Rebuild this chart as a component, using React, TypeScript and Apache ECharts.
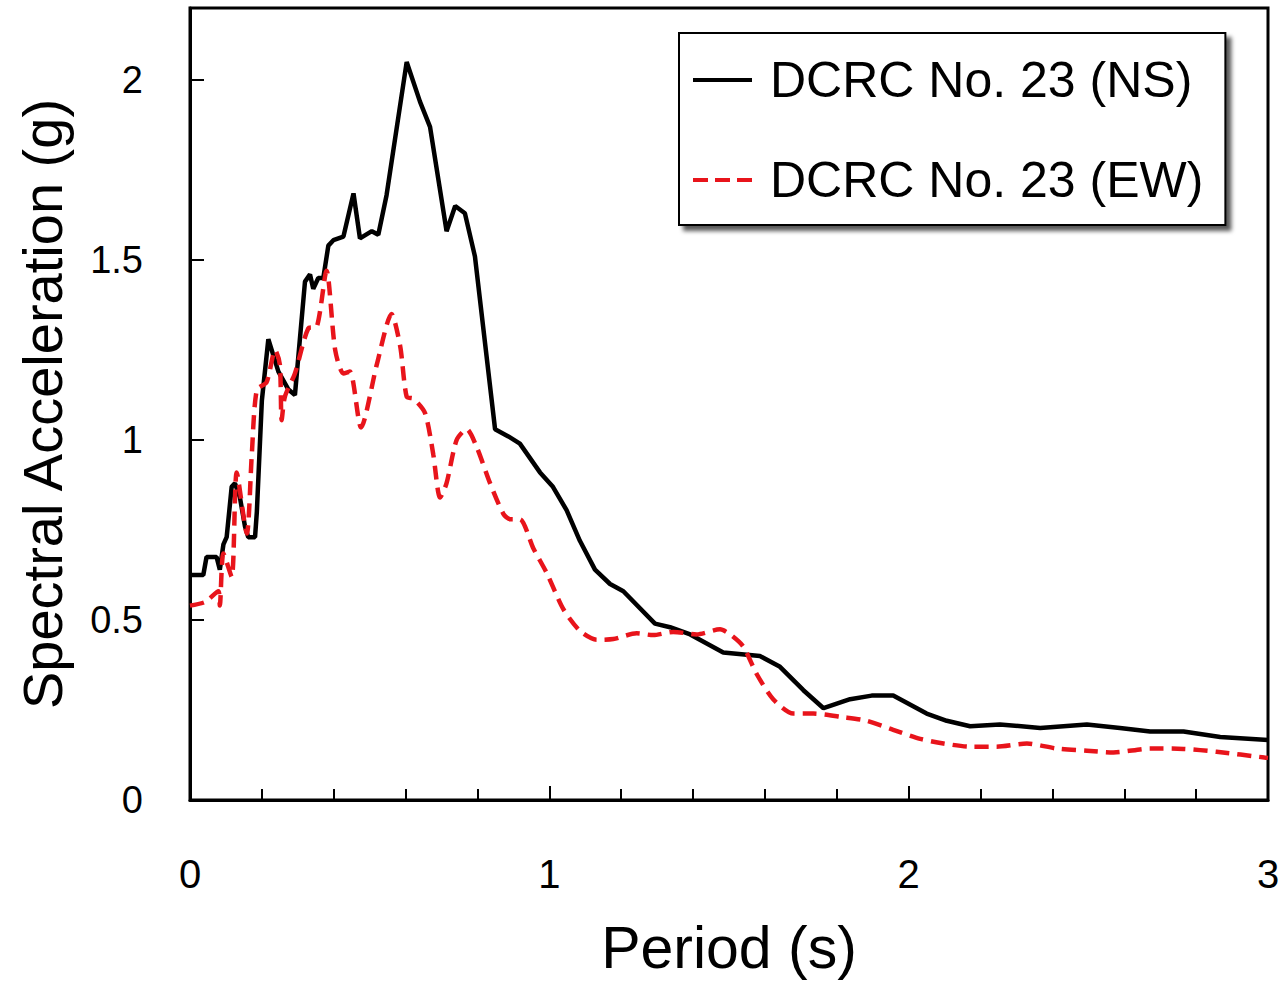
import React, { useEffect, useRef } from "react";
import * as echarts from "echarts";

const nsName = "DCRC No. 23 (NS)";
const ewName = "DCRC No. 23 (EW)";

const nsPeriod = [0.0, 0.037, 0.046, 0.074, 0.083, 0.093, 0.102, 0.116, 0.125, 0.139, 0.153, 0.162, 0.181, 0.186, 0.2, 0.218, 0.246, 0.274, 0.292, 0.32, 0.334, 0.343, 0.357, 0.371, 0.385, 0.399, 0.427, 0.455, 0.473, 0.506, 0.524, 0.547, 0.603, 0.64, 0.668, 0.714, 0.738, 0.765, 0.793, 0.849, 0.886, 0.918, 0.974, 1.01, 1.048, 1.085, 1.127, 1.169, 1.206, 1.294, 1.336, 1.392, 1.484, 1.586, 1.642, 1.707, 1.763, 1.837, 1.897, 1.957, 2.05, 2.106, 2.171, 2.254, 2.366, 2.496, 2.588, 2.672, 2.765, 2.867, 3.0];
const nsSa = [0.625, 0.625, 0.675, 0.675, 0.64, 0.71, 0.73, 0.87, 0.88, 0.84, 0.76, 0.73, 0.73, 0.8, 1.11, 1.28, 1.19, 1.14, 1.125, 1.44, 1.46, 1.42, 1.45, 1.45, 1.54, 1.555, 1.565, 1.685, 1.56, 1.58, 1.57, 1.68, 2.05, 1.94, 1.87, 1.58, 1.65, 1.63, 1.51, 1.03, 1.01, 0.99, 0.91, 0.87, 0.805, 0.72, 0.64, 0.6, 0.58, 0.49, 0.48, 0.46, 0.41, 0.4, 0.37, 0.305, 0.255, 0.28, 0.29, 0.29, 0.24, 0.22, 0.205, 0.21, 0.2, 0.21, 0.2, 0.19, 0.19, 0.175, 0.167];

const ewPeriod = [0.0, 0.042, 0.079, 0.083, 0.093, 0.116, 0.13, 0.158, 0.172, 0.186, 0.213, 0.237, 0.25, 0.255, 0.264, 0.292, 0.329, 0.353, 0.38, 0.404, 0.427, 0.445, 0.476, 0.52, 0.561, 0.585, 0.603, 0.622, 0.654, 0.677, 0.696, 0.714, 0.742, 0.77, 0.798, 0.835, 0.872, 0.891, 0.918, 0.955, 0.993, 1.039, 1.085, 1.132, 1.178, 1.243, 1.289, 1.345, 1.41, 1.475, 1.503, 1.54, 1.577, 1.623, 1.679, 1.735, 1.818, 1.883, 1.957, 2.032, 2.097, 2.171, 2.245, 2.329, 2.412, 2.496, 2.57, 2.672, 2.765, 2.857, 2.99, 3.0];
const ewSa = [0.54, 0.55, 0.58, 0.54, 0.685, 0.62, 0.91, 0.74, 0.96, 1.14, 1.16, 1.25, 1.21, 1.055, 1.12, 1.185, 1.31, 1.315, 1.47, 1.25, 1.185, 1.19, 1.035, 1.21, 1.35, 1.26, 1.12, 1.115, 1.075, 0.96, 0.84, 0.88, 1.0, 1.03, 0.98, 0.88, 0.795, 0.78, 0.78, 0.7, 0.63, 0.53, 0.47, 0.445, 0.447, 0.463, 0.458, 0.467, 0.46, 0.474, 0.46, 0.426, 0.35, 0.28, 0.24, 0.24, 0.23, 0.22, 0.195, 0.17, 0.157, 0.148, 0.148, 0.157, 0.143, 0.137, 0.132, 0.143, 0.142, 0.134, 0.118, 0.117];

const FONT = "'Liberation Sans', Arial, sans-serif";
const RED = "#e8141b";

export default function App() {
  const ref = useRef<HTMLDivElement>(null);
  useEffect(() => {
    if (!ref.current) return;
    const chart = echarts.init(ref.current, undefined, { renderer: "svg" });
    const ns = nsPeriod.map((p, i) => [p, nsSa[i]]);
    const ew = ewPeriod.map((p, i) => [p, ewSa[i]]);
    chart.setOption({
      animation: false,
      backgroundColor: "#ffffff",
      textStyle: { fontFamily: FONT },
      grid: {
        left: 190,
        right: 16,
        top: 8,
        bottom: 196,
        show: true,
        borderColor: "#000",
        borderWidth: 3,
        backgroundColor: "transparent",
      },
      legend: {
        orient: "vertical",
        left: 679,
        top: 33,
        padding: [19, 22, 17, 14],
        itemGap: 44,
        itemWidth: 59,
        itemHeight: 4,
        backgroundColor: "#fff",
        borderColor: "#000",
        borderWidth: 2,
        shadowColor: "rgba(0,0,0,0.65)",
        shadowBlur: 4,
        shadowOffsetX: 5,
        shadowOffsetY: 5,
        textStyle: {
          fontFamily: FONT,
          fontSize: 50,
          color: "#000",
          lineHeight: 56,
          padding: [0, 0, 0, 13],
        },
        data: [
          { name: nsName, icon: "rect", itemStyle: { color: "#000" } },
          {
            name: ewName,
            icon: "path://M0,0h15v4h-15z M22,0h15v4h-15z M44,0h15v4h-15z",
            itemStyle: { color: RED },
          },
        ],
      },
      xAxis: {
        type: "value",
        min: 0,
        max: 3,
        interval: 1,
        name: "Period (s)",
        nameLocation: "middle",
        nameGap: 118,
        nameTextStyle: { fontFamily: FONT, fontSize: 59, color: "#000" },
        axisLine: { lineStyle: { color: "#000", width: 3 } },
        axisTick: { inside: true, length: 14, lineStyle: { color: "#000", width: 2 } },
        minorTick: { show: true, splitNumber: 5, length: 11, lineStyle: { color: "#000", width: 2 } },
        splitLine: { show: false },
        axisLabel: { fontFamily: FONT, fontSize: 40, color: "#000", margin: 54 },
      },
      yAxis: {
        type: "value",
        min: 0,
        max: 2.2,
        interval: 0.5,
        name: "Spectral Acceleration (g)",
        nameLocation: "middle",
        nameGap: 120,
        nameTextStyle: { fontFamily: FONT, fontSize: 56, color: "#000" },
        axisLine: { show: true, lineStyle: { color: "#000", width: 3 } },
        axisTick: { show: true, inside: true, length: 14, lineStyle: { color: "#000", width: 2 } },
        splitLine: { show: false },
        axisLabel: { fontFamily: FONT, fontSize: 38, color: "#000", margin: 47, showMaxLabel: false },
      },
      series: [
        {
          name: nsName,
          type: "line",
          data: ns,
          symbol: "none",
          lineStyle: { color: "#000", width: 4.5 },
          itemStyle: { color: "#000" },
        },
        {
          name: ewName,
          type: "line",
          data: ew,
          symbol: "none",
          smooth: 0.25,
          lineStyle: { color: RED, width: 4.5, type: [14, 8] },
          itemStyle: { color: RED },
        },
      ],
    });
    return () => chart.dispose();
  }, []);
  return (
    <div
      ref={ref}
      style={{ position: "fixed", left: 0, top: 0, width: 1284, height: 996, background: "#fff" }}
    />
  );
}
